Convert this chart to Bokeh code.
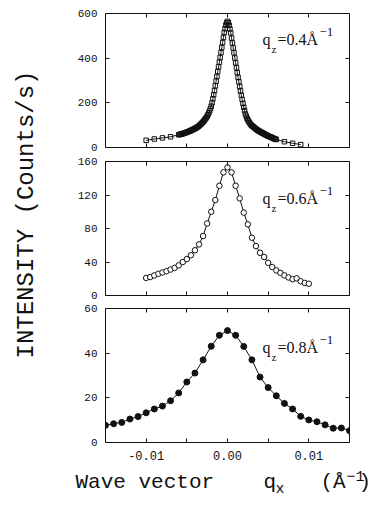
import math
from bokeh.plotting import figure
from bokeh.layouts import row, column
from bokeh.models import Range1d, LinearAxis, FixedTicker, NumeralTickFormatter, Label
from bokeh.embed import file_html
from bokeh.resources import INLINE

# ---------------- data ----------------
# qz = 0.4 1/A  (open squares)
qx_04_left = [-0.010, -0.009, -0.008, -0.007]
i_04_left = [32, 38, 43, 48]
qx_04_dense = [round(-0.006 + 0.0001 * k, 4) for k in range(121)]
i_04_dense = [57, 58, 59, 60, 61, 62, 63, 64, 66, 67,
              68, 70, 71, 73, 74, 76, 78, 80, 81, 83,
              85, 87, 89, 92, 94, 97, 100, 104, 107, 111,
              115, 119, 124, 129, 134, 140, 147, 155, 164, 174,
              185, 200, 218, 236, 255, 276, 297, 318, 340, 361,
              382, 403, 425, 448, 470, 493, 515, 532, 548, 559,
              565,
              559, 547, 531, 513, 490, 468, 446, 424, 401, 379,
              357, 335, 314, 294, 273, 253, 234, 215, 197, 180,
              165, 150, 140, 131, 124, 117, 111, 106, 101, 98,
              95, 92, 89, 86, 83, 80, 78, 75, 73, 71,
              69, 67, 65, 63, 61, 59, 57, 55, 53, 51,
              50, 48, 47, 45, 44, 42, 40, 39, 37, 36]
qx_04_right = [0.007, 0.008, 0.009]
i_04_right = [26, 19, 13]

# qz = 0.6 1/A  (open circles)
qx_06 = [-0.0100, -0.0095, -0.0090, -0.0085, -0.0080, -0.0075, -0.0070, -0.0065,
         -0.0060, -0.0055, -0.0050, -0.0045, -0.0040, -0.0035, -0.0030, -0.0025,
         -0.0020, -0.0015, -0.0010, -0.0005, 0.0000, 0.0005, 0.0010, 0.0015,
         0.0020, 0.0025, 0.0030, 0.0035, 0.0040, 0.0045, 0.0050, 0.0055,
         0.0060, 0.0065, 0.0070, 0.0075, 0.0080, 0.0085, 0.0090, 0.0095, 0.0100]
i_06 = [21, 22, 24, 26, 27.5, 29, 31, 33, 36, 40,
        43.5, 48, 54, 61, 71, 86, 100, 114, 131, 147,
        153,
        147, 131, 116, 99, 85, 69, 59, 51, 46, 39,
        34, 30, 27, 24, 21.5, 19.5, 20.5, 17, 15, 14]

# qz = 0.8 1/A  (filled circles)
qx_08 = [-0.015, -0.014, -0.013, -0.012, -0.011, -0.010, -0.009, -0.008,
         -0.007, -0.006, -0.005, -0.004, -0.003, -0.002, -0.001, 0.000,
         0.001, 0.002, 0.003, 0.004, 0.005, 0.006, 0.007, 0.008,
         0.009, 0.010, 0.011, 0.012, 0.013, 0.014, 0.015]
i_08 = [7.7, 8.4, 9.0, 10.5, 11.6, 13.3, 15.0, 16.3, 18.7, 22.2,
        27.1, 31.1, 37.0, 43.1, 48.0, 50.1, 48.0, 43.0, 37.0, 29.3,
        24.6, 20.9, 17.5, 15.0, 11.7, 10.1, 9.3, 7.9, 6.4, 6.5, 5.3]

x_major = [-0.01, 0.0, 0.01]
x_minor = [-0.005, 0.005]
y_ticks_04 = [0, 200, 400, 600]
y_ticks_06 = [0, 40, 80, 120, 160]
y_ticks_08 = [0, 20, 40, 60]
qz_labels = ["=0.4Å", "=0.6Å", "=0.8Å"]

INK = "#111111"
MONO = "Liberation Mono"
SERIF = "Liberation Serif"


def make_axis(ticker, show_labels, formatter=None, font_size="12px"):
    ax = LinearAxis(ticker=ticker)
    ax.major_tick_in = 4
    ax.major_tick_out = 0
    ax.minor_tick_in = 4
    ax.minor_tick_out = 0
    ax.major_tick_line_color = INK
    ax.minor_tick_line_color = INK
    ax.axis_line_color = None
    if formatter is not None:
        ax.formatter = formatter
    if show_labels:
        ax.major_label_text_font = MONO
        ax.major_label_text_font_size = font_size
        ax.major_label_text_color = INK
        ax.major_label_standoff = 8
    else:
        ax.major_label_text_font_size = "1px"
        ax.major_label_text_color = None
        ax.major_label_standoff = 0
    return ax


def panel(height, ymax, yticks, border_top, border_bottom, show_x):
    p = figure(width=304, height=height, output_backend="svg", toolbar_location=None,
               x_range=Range1d(-0.015, 0.015), y_range=Range1d(0, ymax),
               x_axis_location=None, y_axis_location=None,
               min_border_left=37, min_border_right=23,
               min_border_top=border_top, min_border_bottom=border_bottom)
    p.grid.visible = False
    p.outline_line_color = INK
    p.outline_line_width = 1
    xt = FixedTicker(ticks=x_major, minor_ticks=x_minor)
    yt = FixedTicker(ticks=yticks, minor_ticks=[])
    p.add_layout(make_axis(xt, show_x, NumeralTickFormatter(format="0.00"), "12px"), "below")
    p.add_layout(make_axis(xt, False), "above")
    p.add_layout(make_axis(yt, True, None, "11px"), "left")
    p.add_layout(make_axis(yt, False), "right")
    return p


def qz_label(p, base_y, main_text):
    common = dict(x_units="screen", y_units="screen", text_color=INK,
                  text_font=SERIF, text_baseline="alphabetic", text_align="left")
    p.add_layout(Label(x=157, y=base_y, text="q", text_font_size="16px", **common))
    p.add_layout(Label(x=166, y=base_y - 9, text="z", text_font_size="11px", **common))
    p.add_layout(Label(x=172, y=base_y, text=main_text, text_font_size="16px", **common))
    p.add_layout(Label(x=214, y=base_y + 8, text="−1", text_font_size="13px", **common))


# ---- panel 1
p1 = panel(154, 600, y_ticks_04, 13, 7, False)
qx1 = qx_04_left + qx_04_dense + qx_04_right
i1 = i_04_left + i_04_dense + i_04_right
p1.line(qx1, i1, line_color=INK, line_width=1)
p1.scatter(qx1, i1, marker="square", size=4.5, line_color=INK, line_width=1,
           fill_color="white", fill_alpha=0.0)
qz_label(p1, 108, qz_labels[0])

# ---- panel 2
p2 = panel(148, 160, y_ticks_06, 7, 7, False)
p2.line(qx_06, i_06, line_color=INK, line_width=1)
p2.scatter(qx_06, i_06, marker="circle", size=5.5, line_color=INK, line_width=1,
           fill_color="white")
qz_label(p2, 97, qz_labels[1])

# ---- panel 3
p3 = panel(162, 60, y_ticks_08, 6, 22, True)
p3.line(qx_08, i_08, line_color=INK, line_width=1)
p3.scatter(qx_08, i_08, marker="circle", size=6, line_color=INK, line_width=1,
           fill_color=INK)
qz_label(p3, 95, qz_labels[2])

# y-axis title strip
ystrip = figure(width=68, height=464, output_backend="svg", toolbar_location=None,
                x_range=Range1d(0, 68), y_range=Range1d(0, 464),
                x_axis_location=None, y_axis_location=None,
                min_border_left=0, min_border_right=0,
                min_border_top=0, min_border_bottom=0)
ystrip.grid.visible = False
ystrip.outline_line_color = None
ystrip.add_layout(Label(x=26, y=250, x_units="screen", y_units="screen",
                        text="INTENSITY (Counts/s)", angle=math.pi / 2,
                        text_align="center", text_baseline="middle",
                        text_font=MONO, text_font_size="24px", text_color=INK))

# x-axis title strip
xstrip = figure(width=372, height=35, output_backend="svg", toolbar_location=None,
                x_range=Range1d(0, 372), y_range=Range1d(0, 35),
                x_axis_location=None, y_axis_location=None,
                min_border_left=0, min_border_right=0,
                min_border_top=0, min_border_bottom=0)
xstrip.grid.visible = False
xstrip.outline_line_color = None
mono = dict(x_units="screen", y_units="screen", text_color=INK, text_font=MONO,
            text_baseline="middle", text_align="left")
xstrip.add_layout(Label(x=75, y=17, text="Wave vector", text_font_size="21px", **mono))
xstrip.add_layout(Label(x=263, y=17, text="q", text_font_size="21px", **mono))
xstrip.add_layout(Label(x=275, y=10, text="x", text_font_size="15px", **mono))
xstrip.add_layout(Label(x=320, y=17, text="(Å", text_font_size="21px", **mono))
xstrip.add_layout(Label(x=346, y=24, text="−1", text_font_size="15px", **mono))
xstrip.add_layout(Label(x=358, y=17, text=")", text_font_size="21px", **mono))

layout = column(row(ystrip, column(p1, p2, p3, spacing=0), spacing=0), xstrip, spacing=0)

open("out.html", "w").write(file_html(layout, INLINE))
